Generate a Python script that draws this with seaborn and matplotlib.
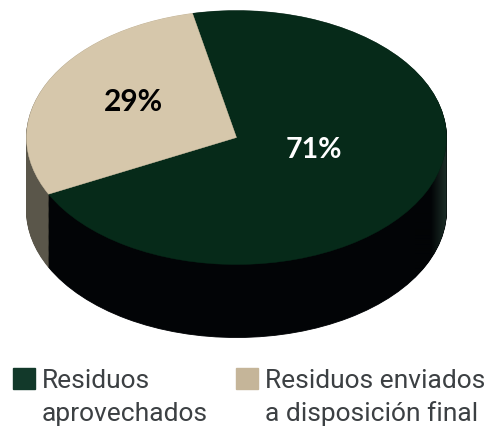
import numpy as np
import matplotlib
matplotlib.use("Agg")
import matplotlib.pyplot as plt
from matplotlib.colors import LinearSegmentedColormap
from matplotlib.patches import Patch, Polygon
import seaborn as sns

categories = ["Residuos aprovechados", "Residuos enviados a disposición final"]
shares = [71, 29]
top_colors = ["#062a19", "#d6c7ab"]
wall_colors = ["#020406", "#5a564a"]
legend_rows = ["Residuos", "aprovechados", "Residuos enviados", "a disposición final"]
legend_colors = ["#12392a", "#c5b599"]

sns.set_theme(style="white")
plt.rcParams["font.family"] = ["Roboto", "DejaVu Sans"]

W, H = 484, 429
cx, cy, rx, ry, depth_px = 236.5, 137.5, 210, 127, 73
depth = depth_px / ry

fig = plt.figure(figsize=(W / 100, H / 100), dpi=100)
ax = fig.add_axes([0, 0, 1, 1])

# side wall: same pie stacked downwards
for d in np.linspace(depth, 0.005, 80):
    wedges, _ = ax.pie(shares, colors=wall_colors, startangle=206.5, center=(0, -d))
    for w in wedges:
        w.set_edgecolor(w.get_facecolor())
        w.set_linewidth(0.6)

# lighter rim at the right end of the wall
t = np.radians(np.linspace(0, -50, 40))
rim_pts = np.r_[np.c_[np.cos(t), np.sin(t)], np.c_[np.cos(t[::-1]), np.sin(t[::-1]) - depth]]
rim = Polygon(rim_pts, transform=ax.transData, facecolor="none", edgecolor="none")
ax.add_patch(rim)
rim_cmap = LinearSegmentedColormap.from_list("rim", ["#020406", "#020406", "#1c2f28"])
img = ax.imshow(np.linspace(0, 1, 64).reshape(1, -1), cmap=rim_cmap, aspect="auto",
                extent=[0.85, 1.0, -1.0 - depth, 0.1], zorder=1.5)
img.set_clip_path(rim)

# top face
wedges, _ = ax.pie(shares, colors=top_colors, startangle=206.5, wedgeprops={"zorder": 3})
for w in wedges:
    w.set_edgecolor(w.get_facecolor())
    w.set_linewidth(0.3)

ax.set_aspect("auto")
ax.set_xlim(-cx / rx, (W - cx) / rx)
ax.set_ylim((cy - H) / ry, cy / ry)


def to_data(px, py):
    return (px - cx) / rx, (cy - py) / ry


x, y = to_data(314, 150)
ax.text(x, y, f"{shares[0]}%", color="white", fontsize=20.5, fontweight="bold",
        family="Lato", ha="center", va="center", zorder=5)
x, y = to_data(133, 102)
ax.text(x, y, f"{shares[1]}%", color="black", fontsize=21.5, fontweight="bold",
        family="Lato", ha="center", va="center", zorder=5)

# two-line legend: second line of each entry is a row with an empty handle
handles = [Patch(color=legend_colors[0]), Patch(color="none"),
           Patch(color=legend_colors[1]), Patch(color="none")]
ax.legend(handles, legend_rows, ncol=2, frameon=False, fontsize=19,
          loc="upper left", bbox_to_anchor=(13 / W, 1 - 368 / H), borderpad=0, borderaxespad=0,
          handlelength=0.83, handleheight=0.87, handletextpad=0.27,
          labelspacing=0.3, columnspacing=1.06, labelcolor="#3c4043")

fig.savefig("out.png", dpi=100)
